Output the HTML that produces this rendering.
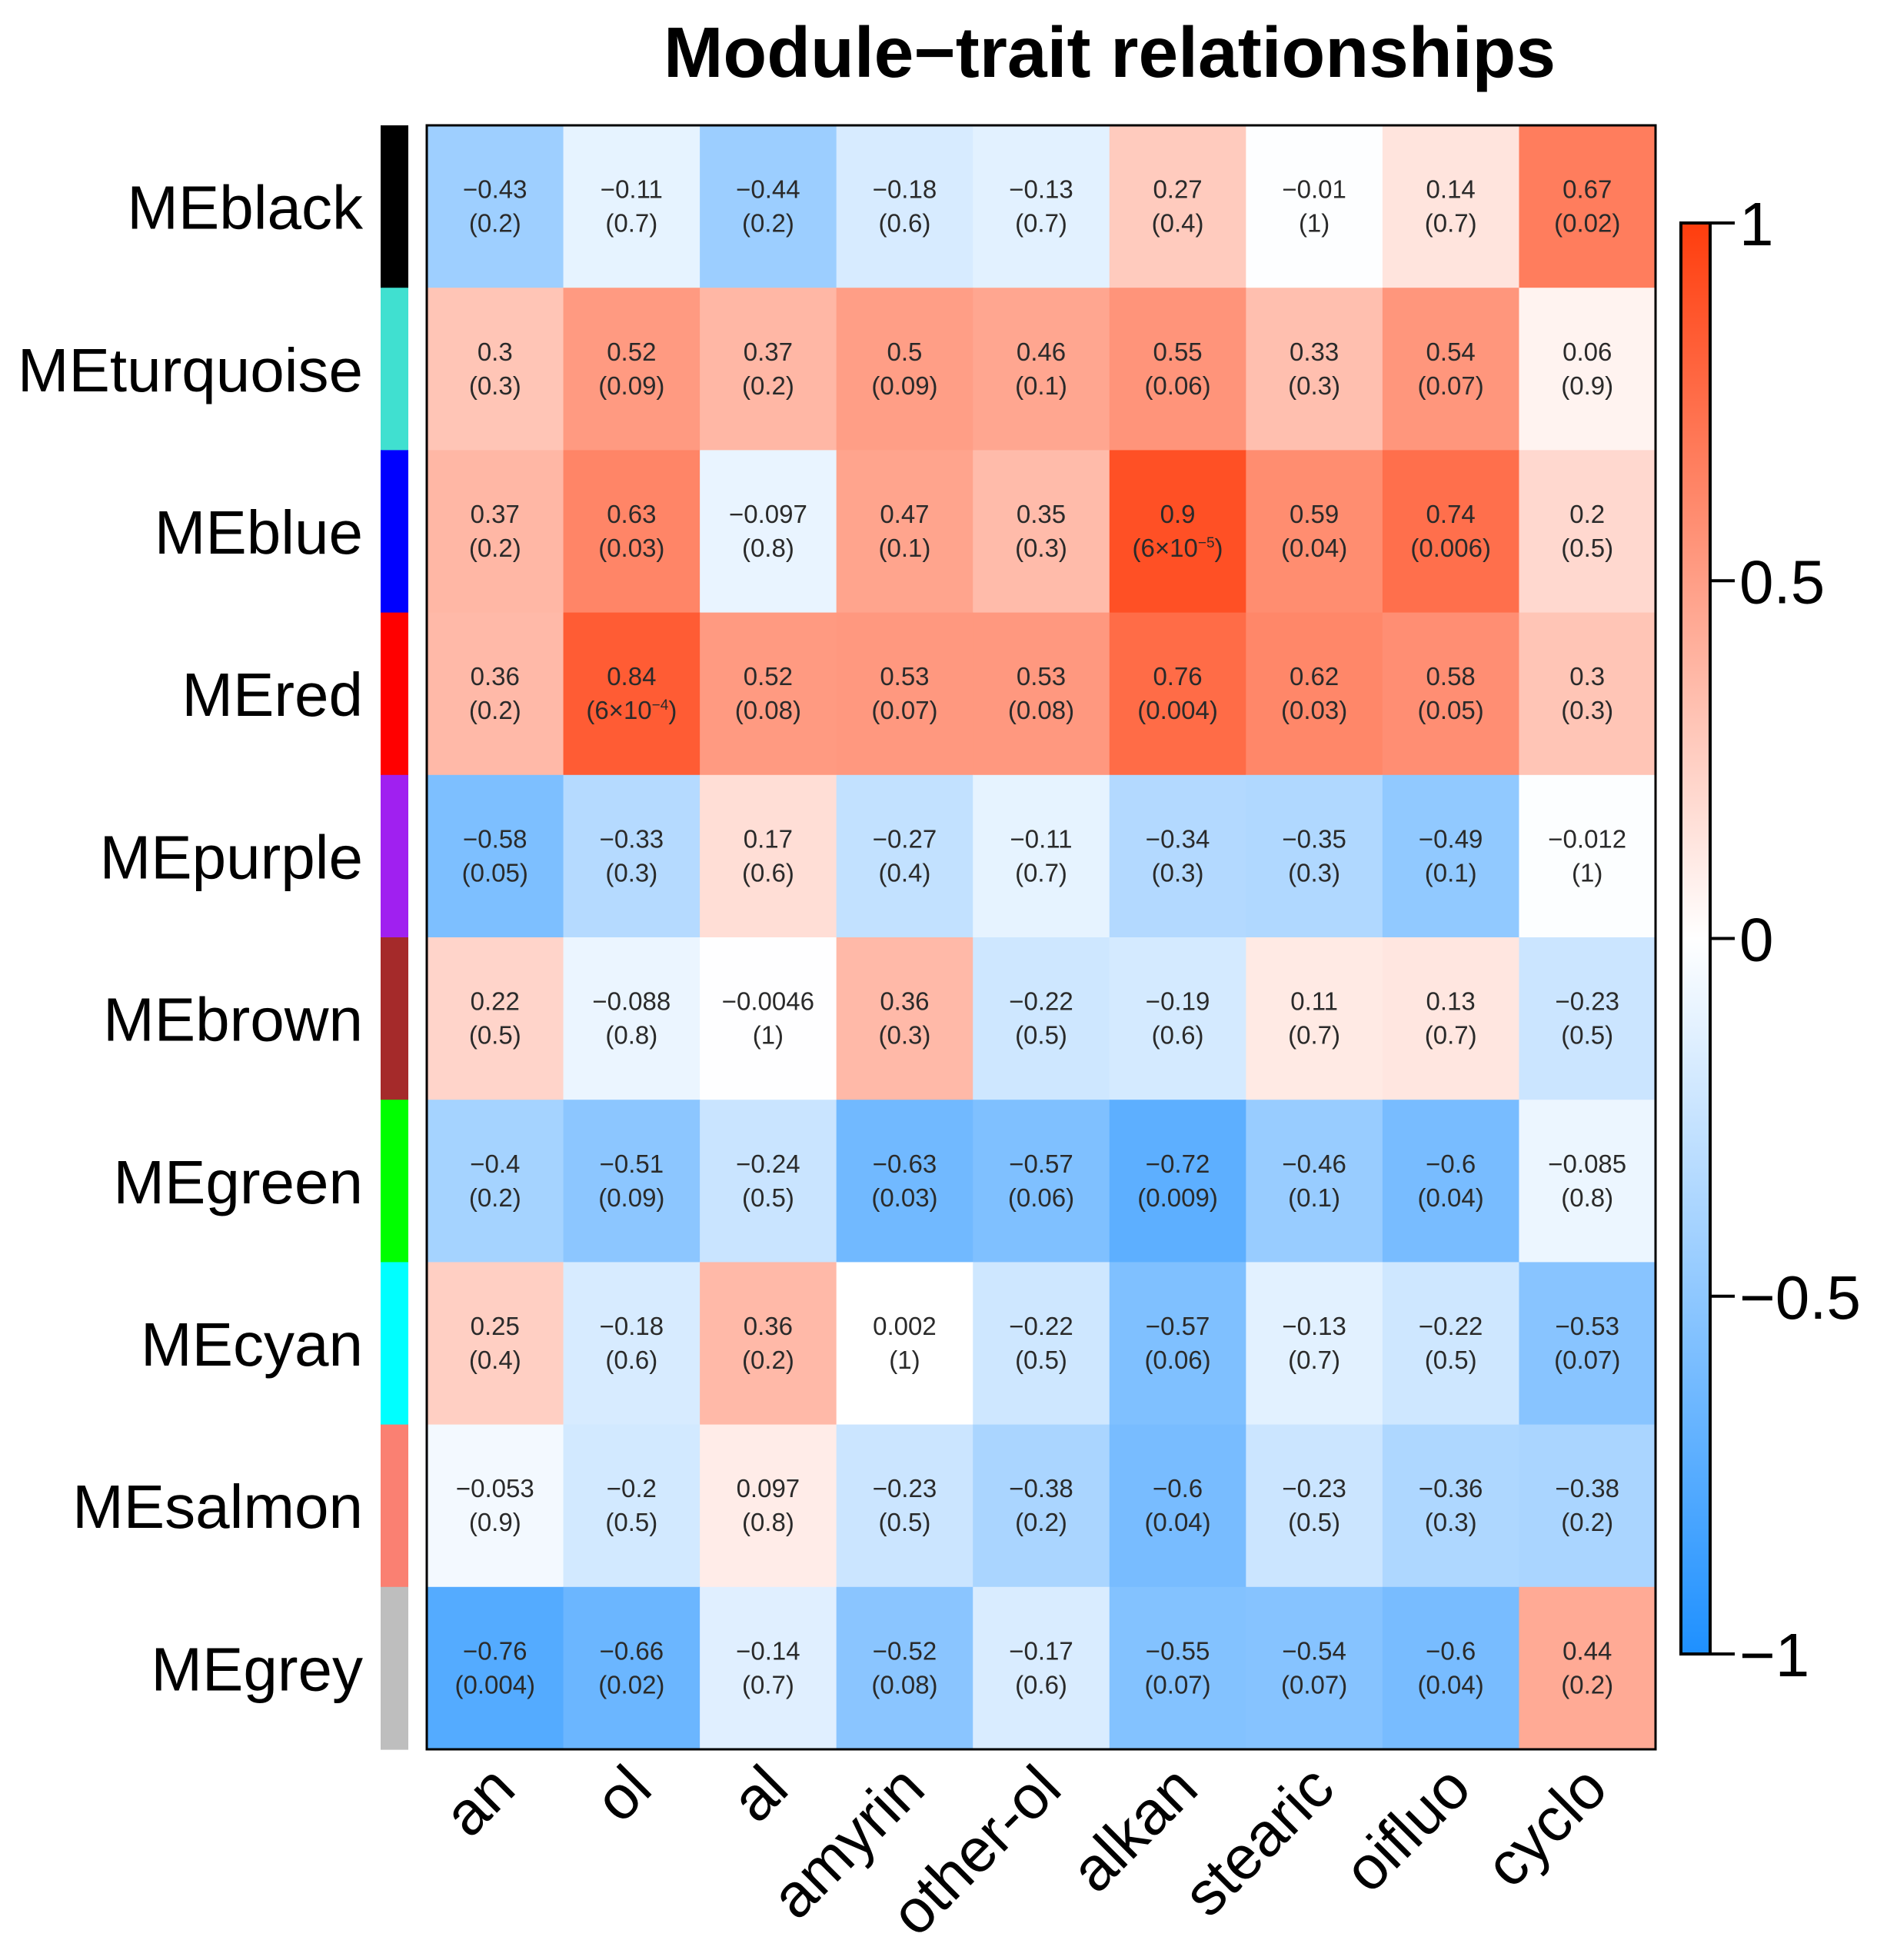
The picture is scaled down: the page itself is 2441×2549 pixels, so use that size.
<!DOCTYPE html>
<html><head><meta charset="utf-8"><style>
html,body{margin:0;padding:0;background:#fff;}
svg{display:block;font-family:"Liberation Sans",Arial,sans-serif;}
</style></head><body>
<svg id="chart" width="2441" height="2549" viewBox="0 0 2441 2549" xmlns="http://www.w3.org/2000/svg">
<defs>
<linearGradient id="cbar" x1="0" y1="1" x2="0" y2="0">
<stop offset="0" stop-color="#1E90FF"/><stop offset="0.5" stop-color="#FFFFFF"/><stop offset="1" stop-color="#FF3D0D"/>
</linearGradient>
</defs>
<text x="1443" y="100" font-size="93" font-weight="bold" text-anchor="middle">Module−trait relationships</text>
<g id="cells"></g>
<g id="sidebar"></g>
<g id="rowlabels"></g>
<g id="collabels"></g>
<rect x="555" y="163" width="1598" height="2112" fill="none" stroke="#000" stroke-width="3"/>
<g id="legend"></g>
</svg>
<script>
const modules = ["MEblack","MEturquoise","MEblue","MEred","MEpurple","MEbrown","MEgreen","MEcyan","MEsalmon","MEgrey"];
const moduleColors = ["#000000","#40E0D0","#0000FF","#FF0000","#A020F0","#A52A2A","#00FF00","#00FFFF","#FA8072","#BEBEBE"];
const traits = ["an","ol","al","amyrin","other-ol","alkan","stearic","oifluo","cyclo"];
const corr = [
 [-0.43,-0.11,-0.44,-0.18,-0.13,0.27,-0.01,0.14,0.67],
 [0.3,0.52,0.37,0.5,0.46,0.55,0.33,0.54,0.06],
 [0.37,0.63,-0.097,0.47,0.35,0.9,0.59,0.74,0.2],
 [0.36,0.84,0.52,0.53,0.53,0.76,0.62,0.58,0.3],
 [-0.58,-0.33,0.17,-0.27,-0.11,-0.34,-0.35,-0.49,-0.012],
 [0.22,-0.088,-0.0046,0.36,-0.22,-0.19,0.11,0.13,-0.23],
 [-0.4,-0.51,-0.24,-0.63,-0.57,-0.72,-0.46,-0.6,-0.085],
 [0.25,-0.18,0.36,0.002,-0.22,-0.57,-0.13,-0.22,-0.53],
 [-0.053,-0.2,0.097,-0.23,-0.38,-0.6,-0.23,-0.36,-0.38],
 [-0.76,-0.66,-0.14,-0.52,-0.17,-0.55,-0.54,-0.6,0.44]
];
const pvals = [
 ["0.2","0.7","0.2","0.6","0.7","0.4","1","0.7","0.02"],
 ["0.3","0.09","0.2","0.09","0.1","0.06","0.3","0.07","0.9"],
 ["0.2","0.03","0.8","0.1","0.3","6×10^-5","0.04","0.006","0.5"],
 ["0.2","6×10^-4","0.08","0.07","0.08","0.004","0.03","0.05","0.3"],
 ["0.05","0.3","0.6","0.4","0.7","0.3","0.3","0.1","1"],
 ["0.5","0.8","1","0.3","0.5","0.6","0.7","0.7","0.5"],
 ["0.2","0.09","0.5","0.03","0.06","0.009","0.1","0.04","0.8"],
 ["0.4","0.6","0.2","1","0.5","0.06","0.7","0.5","0.07"],
 ["0.9","0.5","0.8","0.5","0.2","0.04","0.5","0.3","0.2"],
 ["0.004","0.02","0.7","0.08","0.6","0.07","0.07","0.04","0.2"]
];
const legendTicks = [1,0.5,0,-0.5,-1];

const NS="http://www.w3.org/2000/svg";
const X0=555,X1=2153,Y0=163,Y1=2275;
const cw=(X1-X0)/traits.length, rh=(Y1-Y0)/modules.length;
const xCol=i=>X0+i*cw, yRow=j=>Y0+j*rh;
const LY1=290,LY0=2151;
const yLeg=v=>LY0+(v+1)/2*(LY1-LY0);
function color(v){
  const t=Math.min(1,Math.abs(v));
  const c=v>=0?[255,61,13]:[30,144,255];
  const m=c.map(k=>Math.round(255+(k-255)*t));
  return `rgb(${m[0]},${m[1]},${m[2]})`;
}
function mk(tag,attrs,parent){const e=document.createElementNS(NS,tag);for(const k in attrs)e.setAttribute(k,attrs[k]);parent.appendChild(e);return e;}
function fmt(v){return v<0?"−"+String(-v):String(v);}
const gc=document.getElementById('cells');
modules.forEach((m,j)=>{
  traits.forEach((t,i)=>{
    const r=mk('rect',{x:xCol(i),y:yRow(j),width:cw+0.6,height:rh+0.6,fill:color(corr[j][i])},gc);
    
    
    const cx=xCol(i)+cw/2, cy=yRow(j)+rh/2;
    const t1=mk('text',{x:cx,y:cy-11,'font-size':33,'text-anchor':'middle',fill:'#2a2a2a'},gc);
    t1.textContent=fmt(corr[j][i]);
    
    
    const t2=mk('text',{x:cx,y:cy+33,'font-size':33,'text-anchor':'middle',fill:'#2a2a2a'},gc);
    
    
    const p=pvals[j][i];
    if(p.includes('^')){
      const [base,exp]=p.split('^');
      t2.appendChild(document.createTextNode('('+base));
      const s=mk('tspan',{dy:-12,'font-size':19},t2);s.textContent=exp.replace('-','−');
      const s2=mk('tspan',{dy:12},t2);s2.textContent=')';
    } else t2.textContent='('+p+')';
  });
});
const gs=document.getElementById('sidebar'), gr=document.getElementById('rowlabels');
modules.forEach((m,j)=>{
  const r=mk('rect',{x:495,y:yRow(j),width:36,height:rh+0.6,fill:moduleColors[j]},gs);
  
  
  const t=mk('text',{x:472,y:yRow(j)+rh/2+29,'font-size':80,'text-anchor':'end',fill:'#000'},gr);
  t.textContent=m;
  
  
});
const gl=document.getElementById('collabels');
traits.forEach((t,i)=>{
  const x=xCol(i)+cw/2+30, y=2330;
  const e=mk('text',{x:x,y:y,'font-size':80,'text-anchor':'end',transform:`rotate(-45 ${x} ${y})`,fill:'#000'},gl);
  e.textContent=t;
  
  
});
const lg=document.getElementById('legend');
const bar=mk('rect',{x:2186,y:LY1,width:38,height:LY0-LY1,fill:'url(#cbar)',stroke:'#000','stroke-width':4},lg);


legendTicks.forEach(v=>{
  const y=yLeg(v);
  const l=mk('line',{x1:2224,x2:2256,y1:y,y2:y,stroke:'#000','stroke-width':4},lg);
  
  
  const t=mk('text',{x:2262,y:y+29,'font-size':80,fill:'#000'},lg);
  t.textContent=fmt(v);
  
  
});
</script>
</body></html>
